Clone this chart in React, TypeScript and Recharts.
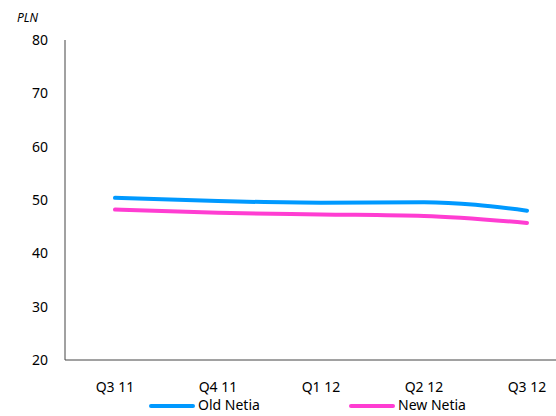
import { LineChart, Line, XAxis, YAxis } from 'recharts';

const quarters = ['Q3 11', 'Q4 11', 'Q1 12', 'Q2 12', 'Q3 12'];
const oldNetia = [50.4, 49.8, 49.5, 49.6, 48.0];
const newNetia = [48.2, 47.6, 47.3, 47.0, 45.7];
const yTicks = [20, 30, 40, 50, 60, 70, 80];

const data = quarters.map((q, i) => ({ name: q, oldNetia: oldNetia[i], newNetia: newNetia[i] }));

const FONT = '"Noto Sans", sans-serif';
const BLUE = '#0099FF';
const PINK = '#FF3DD2';

export default function App() {
    return (
        <div style={{ position: 'absolute', left: 0, top: 0, width: 556, height: 416, background: '#fff' }}>
            <div style={{ position: 'absolute', left: 17, top: 9, fontFamily: FONT, fontSize: 12, fontStyle: 'italic' }}>PLN</div>
            <LineChart width={556} height={416} data={data} margin={{ top: 40, right: 0, bottom: 26, left: 0 }}>
                <XAxis
                    dataKey="name"
                    height={30}
                    padding={{ left: 50, right: 29 }}
                    axisLine={{ stroke: '#444' }}
                    tickLine={false}
                    tickMargin={16}
                    tick={{ fill: '#000', fontSize: 14, fontFamily: FONT }}
                    interval={0}
                />
                <YAxis
                    domain={[20, 80]}
                    ticks={yTicks}
                    width={65}
                    axisLine={{ stroke: '#444' }}
                    tickLine={false}
                    tickMargin={11}
                    tick={{ fill: '#000', fontSize: 14, fontFamily: FONT }}
                />
                <Line type="monotone" dataKey="oldNetia" stroke={BLUE} strokeWidth={4} strokeLinecap="round" dot={false} isAnimationActive={false} />
                <Line type="monotone" dataKey="newNetia" stroke={PINK} strokeWidth={4} strokeLinecap="round" dot={false} isAnimationActive={false} />
            </LineChart>
            {/* legend */}
            <div style={{ position: 'absolute', left: 149, top: 404, width: 46, height: 4, borderRadius: 2, background: BLUE }} />
            <span style={{ position: 'absolute', left: 198, top: 395, fontFamily: FONT, fontSize: 14 }}>Old Netia</span>
            <div style={{ position: 'absolute', left: 349, top: 404, width: 46, height: 4, borderRadius: 2, background: PINK }} />
            <span style={{ position: 'absolute', left: 398, top: 395, fontFamily: FONT, fontSize: 14 }}>New Netia</span>
        </div>
    );
}
